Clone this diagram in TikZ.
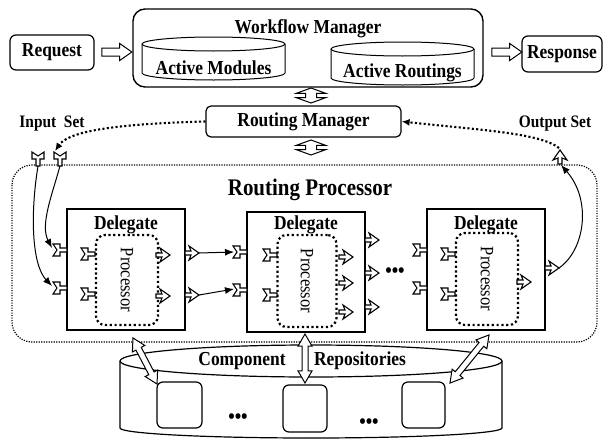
\documentclass[tikz,border=0pt]{standalone}
\usepackage{fontspec}
\setmainfont[FakeStretch=0.88]{Liberation Serif}
\usetikzlibrary{arrows.meta,shapes.arrows}

\tikzset{
  box/.style={draw, line width=1.2pt, rounded corners=6pt},
  lbl/.style={font=\bfseries\fontsize{19.8}{22}\selectfont, inner sep=0pt},
  setlbl/.style={font=\bfseries\fontsize{17.5}{20}\selectfont, inner sep=0pt},
  biglbl/.style={font=\bfseries\fontsize{23.8}{26}\selectfont, inner sep=0pt},
  proclbl/.style={font=\fontsize{18.8}{20}\selectfont, inner sep=0pt, rotate=-90},
  dotslbl/.style={font=\bfseries\fontsize{21}{22}\selectfont, inner sep=0pt},
  delegatebox/.style={draw, line width=1.3pt, minimum width=118pt},
  procbox/.style={draw, line width=2.2pt, dash pattern=on 2.2pt off 2.6pt, rounded corners=9pt},
  heavydots/.style={line width=2.1pt, dash pattern=on 2.1pt off 2.3pt, -{Latex[length=8pt,width=7pt]}},
  link/.style={line width=1pt, -{Latex[length=9pt,width=7pt]}},
  rightarrow/.style={single arrow, draw, line width=1pt, fill=white, inner xsep=0pt, inner ysep=3.5pt,
    single arrow head extend=4.5pt, single arrow tip angle=70, minimum height=30pt},
  updown/.style={double arrow, draw, line width=1pt, fill=white, rotate=90, inner xsep=0pt, inner ysep=5pt,
    double arrow head extend=9pt, double arrow tip angle=140, minimum height=15pt},
  repoarrow/.style={double arrow, draw, line width=1pt, fill=white, sloped, inner xsep=0pt, inner ysep=2.5pt,
    double arrow head extend=4pt, double arrow tip angle=60},
  insock/.pic={\draw[line width=1.1pt, fill=white] (-7,-6) -- (0,-6) -- (0,-2) -- (7,-2) -- (7,2) -- (0,2) -- (0,6) -- (-7,6) -- (-3,0) -- cycle;},
  outsock/.pic={\draw[line width=1.1pt, fill=white] (-7,-2) -- (-1,-2) -- (-3,-7) -- (7,0) -- (-3,7) -- (-1,2) -- (-7,2) -- cycle;},
}

\begin{document}
\begin{tikzpicture}[x=1pt, y=-1pt]
\useasboundingbox (0,0) rectangle (604,439);

% top row
\node[box, minimum width=84pt, minimum height=35pt] (request) at (52,52.5) {};
\node[lbl] at (request) {Request};
\node[box, rounded corners=12pt, line width=1.4pt, minimum width=350pt, minimum height=78pt] (wm) at (308,48) {};
\node[lbl] (wmtitle) at (308,29) {Workflow Manager};
\node[box, minimum width=80pt, minimum height=36pt] (response) at (562,54) {};
\node[lbl] at (response) {Response};
\node[rightarrow] (reqarrow) at (114,52) {};
\node[rightarrow] (resarrow) at (504,52) {};

% active modules / routings
\foreach \x/\t/\ttl in {142/44/Active Modules, 331/49/Active Routings}
{
    \draw[line width=1pt] (\x,\t) -- (\x,\t+29) arc[start angle=180, end angle=0, x radius=71.5, y radius=7] -- (\x+143,\t);
    \draw[line width=1pt] (\x+71.5,\t) ellipse[x radius=71.5, y radius=7];
    \node[lbl] at (\x+71.5,\t+24) {\ttl};
}

% routing manager
\node[updown] (wmrm) at (311,95.5) {};
\node[box, rounded corners=5pt, minimum width=195pt, minimum height=31pt] (rm) at (303.5,121.5) {};
\node[lbl] at (rm) {Routing Manager};
\node[updown] (rmrp) at (311,147.5) {};
\node[setlbl] (inset) at (52,124) {Input\ \ Set};
\node[setlbl] (outset) at (555,124) {Output Set};

% routing processor frame
\draw[line width=1.2pt, dash pattern=on 1.2pt off 1.3pt, rounded corners=20pt] (12,165) rectangle (597,342);
\node[biglbl] (rptitle) at (310,190) {Routing Processor};

% delegates
\foreach \n/\cx/\cy/\h/\py/\ph/\pw in {d1/126/269.5/121/280/90/62, d2/306/272/120/281/92/59, d3/486/269.5/121/279/92/62}
{
    \node[delegatebox, minimum height=\h pt] (\n) at (\cx,\cy) {};
    \node[procbox, minimum width=\pw pt, minimum height=\ph pt] (\n proc) at (\cx+1,\py) {};
    \node[lbl] at (\cx,225) {Delegate};
    \node[proclbl] at (\cx+1,\py) {Processor};
}

% sockets
\foreach \y in {250,288} { \pic at (60,\y) {insock}; \pic at (240,\y+2) {insock}; \pic at (420,\y) {insock}; }
\foreach \y in {254,294} { \pic at (88,\y) {insock}; \pic at (270,\y+1) {insock}; \pic at (448,\y) {insock}; }
\foreach \y in {255,296} \pic at (163,\y) {outsock};
\foreach \y in {253,295} \pic at (192,\y) {outsock};
\foreach \y in {257,283,312} \pic at (346,\y) {outsock};
\foreach \y in {240,273,307} \pic at (372,\y) {outsock};
\pic at (524,282) {outsock};
\pic at (552,268) {outsock};
\node[dotslbl] (gap) at (395,273) {\textbullet\textbullet\textbullet};

% input / output set sockets
\pic[rotate=-90] at (38,159) {insock};
\pic[rotate=-90] at (60,159) {insock};
\pic[rotate=90] at (560,157) {outsock};

\coordinate (inA) at (38,166);
\coordinate (inB) at (60,166);
\coordinate (d1in1) at (52,248);
\coordinate (d1in2) at (52,286);
\coordinate (d1out1) at (199,253);
\coordinate (d1out2) at (199,295);
\coordinate (d2in1) at (234,252);
\coordinate (d2in2) at (234,289);
\coordinate (d3out) at (559,268);
\coordinate (outA) at (561,165);
\coordinate (outtop) at (559,148);
\coordinate (intop) at (55,151);

\draw[link] (inB) .. controls (52,195) and (40,225) .. (d1in1);
\draw[link] (inA) .. controls (30,215) and (32,265) .. (d1in2);
\draw[link] (d1out1) -- (d2in1);
\draw[link] (d1out2) -- (d2in2);
\draw[link] (d3out) .. controls (585,250) and (592,200) .. (outA);

\draw[heavydots] (rm.west) .. controls (110,124) and (68,132) .. (intop);
\draw[heavydots] (outtop) .. controls (540,133) and (480,130) .. (rm.east);

% component repositories
\draw[line width=1.2pt, fill=white] (120,361) -- (120,428) arc[start angle=180, end angle=0, x radius=191, y radius=10] -- (502,361);
\draw[line width=1.2pt, fill=white] (311,361) ellipse[x radius=191, y radius=16];
\node[lbl] (comp) at (242,361) {Component};
\node[lbl] (repo) at (360,361) {Repositories};
\node[box, rounded corners=6pt, minimum width=45pt, minimum height=46pt] (c1) at (179.5,405) {};
\node[box, rounded corners=6pt, minimum width=44pt, minimum height=47pt] (c2) at (305,408.5) {};
\node[box, rounded corners=6pt, minimum width=43pt, minimum height=46pt] (c3) at (423.5,405) {};
\node[dotslbl] (cdots1) at (238,419) {\textbullet\textbullet\textbullet};
\node[dotslbl] (cdots2) at (369,424) {\textbullet\textbullet\textbullet};

\coordinate (rp1) at (133,338);
\coordinate (rb1) at (157,384);
\coordinate (rp2) at (305,334);
\coordinate (rb2) at (305,383);
\coordinate (rp3) at (489,335);
\coordinate (rb3) at (450,383);
\path (rp1) -- (rb1) node[repoarrow, midway, minimum height=52pt] {};
\path (rp2) -- (rb2) node[repoarrow, midway, minimum height=49pt] {};
\path (rp3) -- (rb3) node[repoarrow, midway, minimum height=62pt] {};
\end{tikzpicture}
\end{document}
